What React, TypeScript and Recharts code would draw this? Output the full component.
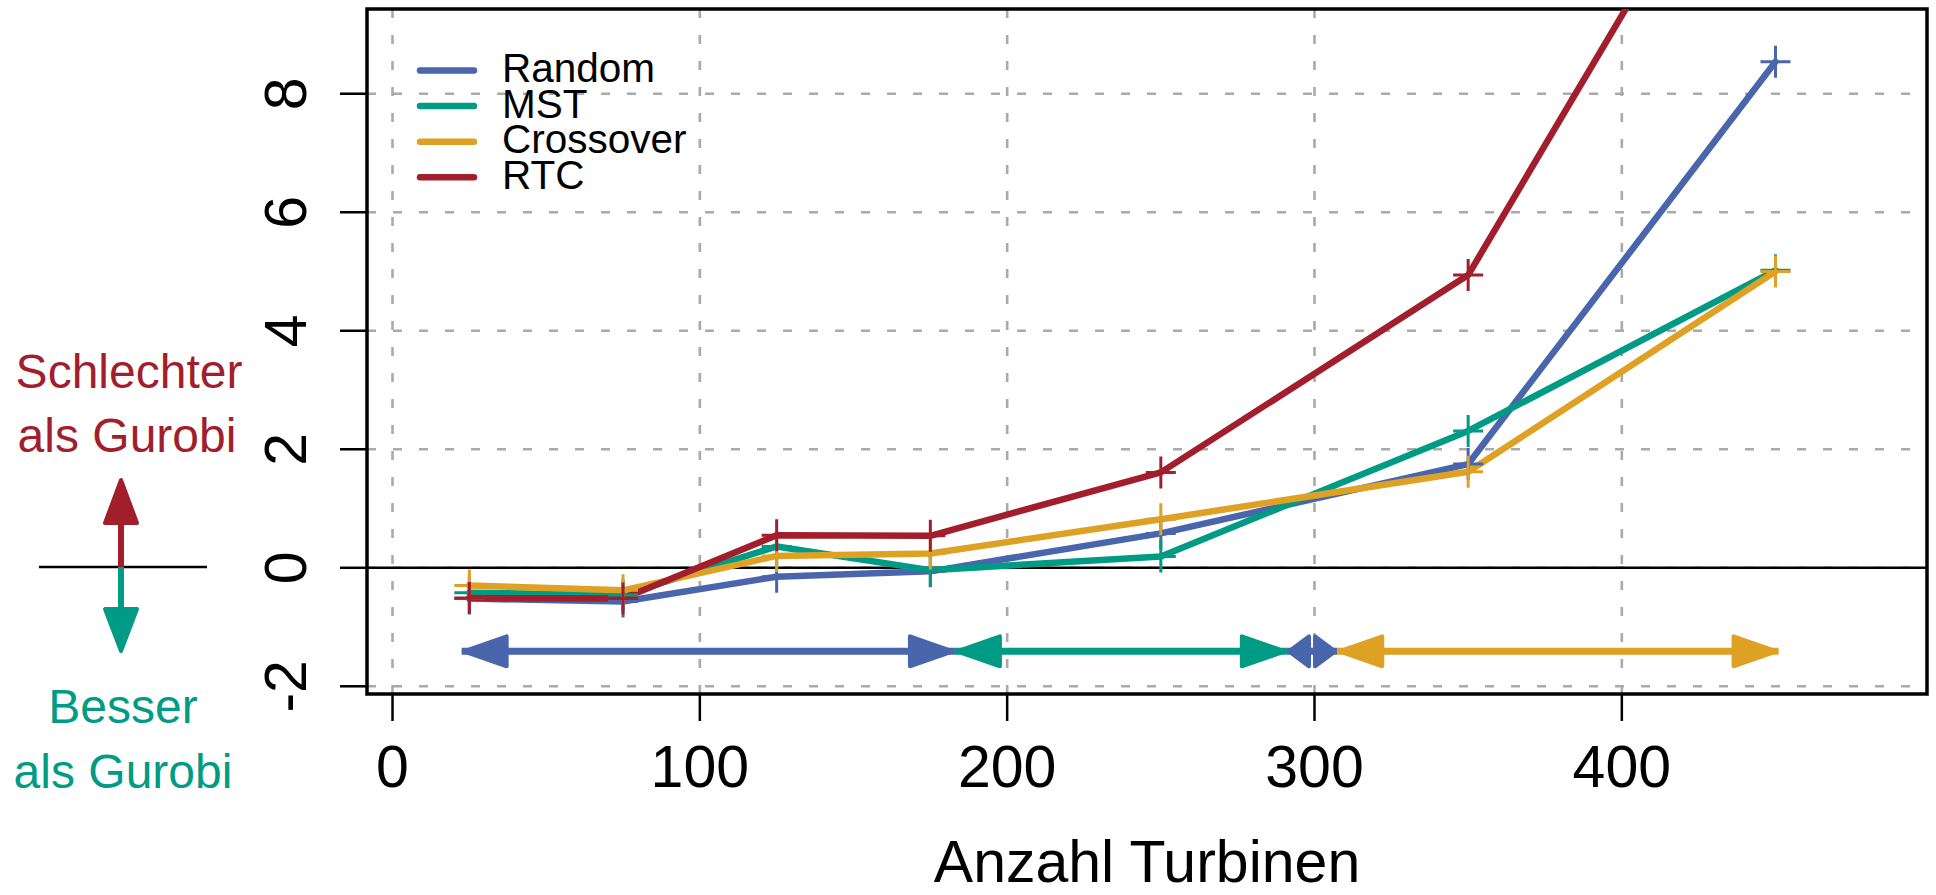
import React from "react";
import {
  CartesianGrid,
  Legend,
  Line,
  LineChart,
  ReferenceArea,
  ReferenceLine,
  XAxis,
  YAxis,
} from "recharts";

// x: Anzahl Turbinen, y: difference to Gurobi
const turbines = [25, 75, 125, 175, 250, 350, 450];
const randomVals = [-0.52, -0.57, -0.15, -0.06, 0.58, 1.75, 8.54];
const mstVals = [-0.42, -0.46, 0.36, -0.04, 0.19, 2.31, 5.02];
const crossoverVals = [-0.3, -0.38, 0.2, 0.24, 0.82, 1.62, 5.0];
const rtcVals = [-0.51, -0.52, 0.55, 0.54, 1.61, 4.94, 13.7];

const xTicks = [0, 100, 200, 300, 400];
const yTicks = [-2, 0, 2, 4, 6, 8];
const xDomain = [-8.3, 499.3];
const yDomain = [-2.13, 9.43];

// which method is best in which range of turbines
const bestLevel = -1.41;
const bestMethod = ["Random", "MST", "Random", "Crossover"];
const bestFrom = [22.5, 183, 291, 307.4];
const bestTo = [183, 291, 307.4, 451];

const FONT = "'Liberation Sans', Arial, Helvetica, sans-serif";
const COLORS: Record<string, string> = {
  Random: "#4966AC",
  MST: "#009B84",
  Crossover: "#DFA124",
  RTC: "#A31E2C",
};
const RED = "#A31E2C";
const GREEN = "#009B84";

const rows = turbines.map((x, i) => ({
  x,
  Random: randomVals[i],
  MST: mstVals[i],
  Crossover: crossoverVals[i],
  RTC: rtcVals[i],
}));

const series = ["Random", "MST", "Crossover", "RTC"];

const Plus = (props: any) => {
  const { cx, cy, stroke } = props;
  if (cx == null || cy == null) return <g />;
  return (
    <path
      d={`M${cx - 15},${cy}h30M${cx},${cy - 16}v32`}
      stroke={stroke}
      strokeWidth={3}
      fill="none"
    />
  );
};

const ArrowHead = (props: any) => {
  const { cx, cy, index, points, fill } = props;
  if (cx == null || cy == null) return <g />;
  let len = 200;
  if (points && points.length === 2) len = Math.abs(points[1].x - points[0].x);
  const h = Math.min(43, len / 2 - 5);
  const dir = index === 0 ? -1 : 1;
  const tip = cx - dir * 2;
  const base = tip - dir * h;
  return (
    <path
      d={`M${tip},${cy}L${base},${cy - 15}L${base},${cy + 15}Z`}
      fill={fill}
      stroke={fill}
      strokeWidth={4}
      strokeLinejoin="round"
    />
  );
};

const XTick = (props: any) => {
  const { x, y, payload } = props;
  return (
    <g>
      <line x1={x} x2={x} y1={y} y2={y + 27} stroke="#000" strokeWidth={2.5} />
      <text x={x} y={y + 93} textAnchor="middle" fontSize={59} fontFamily={FONT} fill="#000">
        {payload.value}
      </text>
    </g>
  );
};

const YTick = (props: any) => {
  const { x, y, payload } = props;
  return (
    <g>
      <line x1={x} x2={x - 27} y1={y} y2={y} stroke="#000" strokeWidth={2.5} />
      <text
        transform={`translate(${x - 61},${y}) rotate(-90)`}
        textAnchor="middle"
        fontSize={59}
        fontFamily={FONT}
        fill="#000"
      >
        {payload.value}
      </text>
    </g>
  );
};

const LegendBox = () => (
  <svg width={320} height={170} style={{ display: "block" }}>
    {series.map((s, i) => {
      const ly = 30.5 + i * 35.6;
      return (
        <g key={s}>
          <line x1={20} x2={74} y1={ly} y2={ly} stroke={COLORS[s]} strokeWidth={6.5} strokeLinecap="round" />
          <text x={102} y={ly + 11.5} fontSize={40.5} fontFamily={FONT} fill="#000">
            {s}
          </text>
        </g>
      );
    })}
  </svg>
);

const SideNote = () => (
  <svg
    width={367}
    height={895}
    style={{ position: "absolute", left: 0, top: 0, pointerEvents: "none" }}
  >
    <g fontFamily={FONT} fontSize={48} textAnchor="middle">
      <text x={129} y={388} fill={RED}>Schlechter</text>
      <text x={127} y={452} fill={RED}>als Gurobi</text>
      <text x={123} y={723} fill={GREEN}>Besser</text>
      <text x={123} y={788} fill={GREEN}>als Gurobi</text>
    </g>
    <line x1={39} x2={207} y1={567} y2={567} stroke="#000" strokeWidth={2.7} />
    <line x1={121} x2={121} y1={567} y2={520} stroke={RED} strokeWidth={6} />
    <path d="M121,480L105,523L137,523Z" fill={RED} stroke={RED} strokeWidth={4} strokeLinejoin="round" />
    <line x1={121} x2={121} y1={567} y2={612} stroke={GREEN} strokeWidth={6} />
    <path d="M121,651L105,609L137,609Z" fill={GREEN} stroke={GREEN} strokeWidth={4} strokeLinejoin="round" />
  </svg>
);

export default function App() {
  return (
    <div style={{ position: "absolute", left: 0, top: 0, width: 1936, height: 895, background: "#fff" }}>
      <LineChart
        width={1936}
        height={895}
        data={rows}
        margin={{ top: 9, right: 9, bottom: 0, left: 0 }}
        style={{ fontFamily: FONT }}
      >
        <CartesianGrid
          stroke="#AAAAAA"
          strokeWidth={2.6}
          strokeDasharray="9 17"
          horizontalValues={yTicks}
          verticalValues={xTicks}
        />
        <XAxis
          type="number"
          dataKey="x"
          domain={xDomain}
          ticks={xTicks}
          interval={0}
          allowDataOverflow
          height={201}
          axisLine={false}
          tickLine={false}
          tickSize={0}
          tickMargin={0}
          tick={<XTick />}
          label={{
            value: "Anzahl Turbinen",
            position: "insideBottom",
            offset: 13,
            fontSize: 59,
            fill: "#000",
            fontFamily: FONT,
          }}
        />
        <YAxis
          type="number"
          domain={yDomain}
          ticks={yTicks}
          interval={0}
          allowDataOverflow
          width={367}
          axisLine={false}
          tickLine={false}
          tickSize={0}
          tickMargin={0}
          tick={<YTick />}
        />
        <ReferenceLine y={0} stroke="#000" strokeWidth={2.5} />
        <ReferenceArea
          x1={xDomain[0]}
          x2={xDomain[1]}
          y1={yDomain[0]}
          y2={yDomain[1]}
          fill="none"
          stroke="#000"
          strokeWidth={3.5}
          ifOverflow="visible"
        />
        {series.map((s) => (
          <Line
            key={s}
            dataKey={s}
            name={s}
            stroke={COLORS[s]}
            strokeWidth={6.5}
            strokeLinejoin="round"
            strokeLinecap="round"
            dot={(p: any) => <Plus key={`${s}-${p.index}`} cx={p.cx} cy={p.cy} stroke={COLORS[s]} />}
            activeDot={false}
            isAnimationActive={false}
          />
        ))}
        {bestMethod.map((m, i) => (
          <Line
            key={`best-${i}`}
            data={[
              { x: bestFrom[i], y: bestLevel },
              { x: bestTo[i], y: bestLevel },
            ]}
            dataKey="y"
            legendType="none"
            stroke={COLORS[m]}
            strokeWidth={7}
            dot={(p: any) => (
              <ArrowHead key={`a-${i}-${p.index}`} cx={p.cx} cy={p.cy} index={p.index} points={p.points} fill={COLORS[m]} />
            )}
            activeDot={false}
            isAnimationActive={false}
          />
        ))}
        <Legend
          layout="vertical"
          align="center"
          verticalAlign="middle"
          wrapperStyle={{ left: 400, top: 40, width: 320, height: 170 }}
          content={() => <LegendBox />}
        />
      </LineChart>
      <SideNote />
    </div>
  );
}
